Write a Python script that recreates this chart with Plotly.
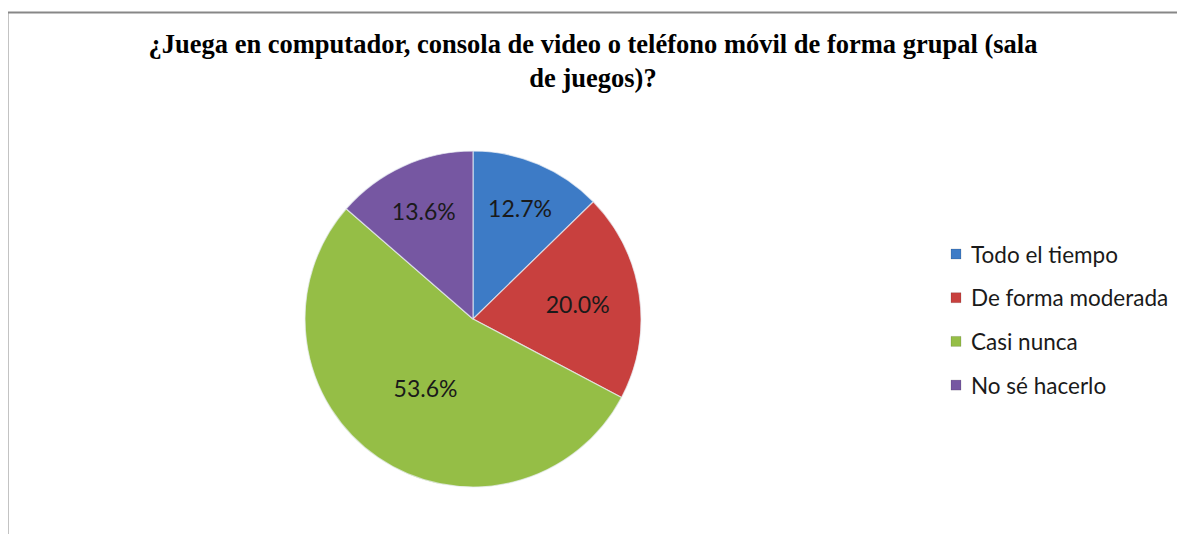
import plotly.graph_objects as go

categories = ["Todo el tiempo", "De forma moderada", "Casi nunca", "No sé hacerlo"]
percent_values = [12.7, 20.0, 53.6, 13.6]
slice_colors = ["#3D7BC6", "#C8403E", "#95BE46", "#7657A2"]
title_text = "¿Juega en computador, consola de video o teléfono móvil de forma grupal (sala<br>de juegos)?"

# page body adds an 8px offset; build the figure in reference-pixel terms
OFF = 8
W, H = 1185 - OFF, 534 - OFF


def px(x):
    return (x - OFF) / W


def py(y):
    return 1 - (y - OFF) / H


cx, cy, r = 473, 319, 168

fig = go.Figure()
fig.add_trace(go.Pie(
    labels=categories,
    values=percent_values,
    sort=False,
    direction="clockwise",
    rotation=0,
    marker=dict(colors=slice_colors, line=dict(color="rgba(235,240,245,0.7)", width=1.2)),
    texttemplate="%{value:.1f}%",
    textposition="inside",
    insidetextorientation="horizontal",
    textfont=dict(family="Lato", size=23, color="#1a1a1a"),
    domain=dict(x=[px(cx - r), px(cx + r)], y=[py(cy + r), py(cy - r)]),
    showlegend=False,
    hoverinfo="label+percent",
))

shapes = [
    dict(type="line", xref="paper", yref="paper", x0=px(7.5), x1=px(7.5), y0=0, y1=py(12.5),
         line=dict(color="#878787", width=2)),
    dict(type="line", xref="paper", yref="paper", x0=px(7.5), x1=1, y0=py(12.5), y1=py(12.5),
         line=dict(color="#878787", width=2)),
]
annotations = []
legend_y0 = 254
legend_step = 43.7
sq = 10
for i, (lab, col) in enumerate(zip(categories, slice_colors)):
    yc = legend_y0 + i * legend_step
    shapes.append(dict(type="rect", xref="paper", yref="paper",
                       x0=px(956 - sq / 2), x1=px(956 + sq / 2),
                       y0=py(yc + sq / 2), y1=py(yc - sq / 2),
                       fillcolor=col, line=dict(color="rgba(0,0,0,0.25)", width=0.5)))
    annotations.append(dict(xref="paper", yref="paper", x=px(969), y=py(yc),
                            xanchor="left", yanchor="middle", showarrow=False, text=lab,
                            font=dict(family="Lato", size=22.5, color="#1a1a1a")))

fig.update_layout(
    width=W, height=H,
    margin=dict(l=0, r=0, t=0, b=0),
    paper_bgcolor="white",
    plot_bgcolor="white",
    title=dict(text=title_text, x=px(593), xanchor="center", xref="paper",
               y=1 - 45 / H, yanchor="top", yref="container",
               font=dict(family="Liberation Serif", size=26.5, color="#000000", weight="bold")),
    shapes=shapes,
    annotations=annotations,
    showlegend=False,
)

fig.write_html("out.html")
